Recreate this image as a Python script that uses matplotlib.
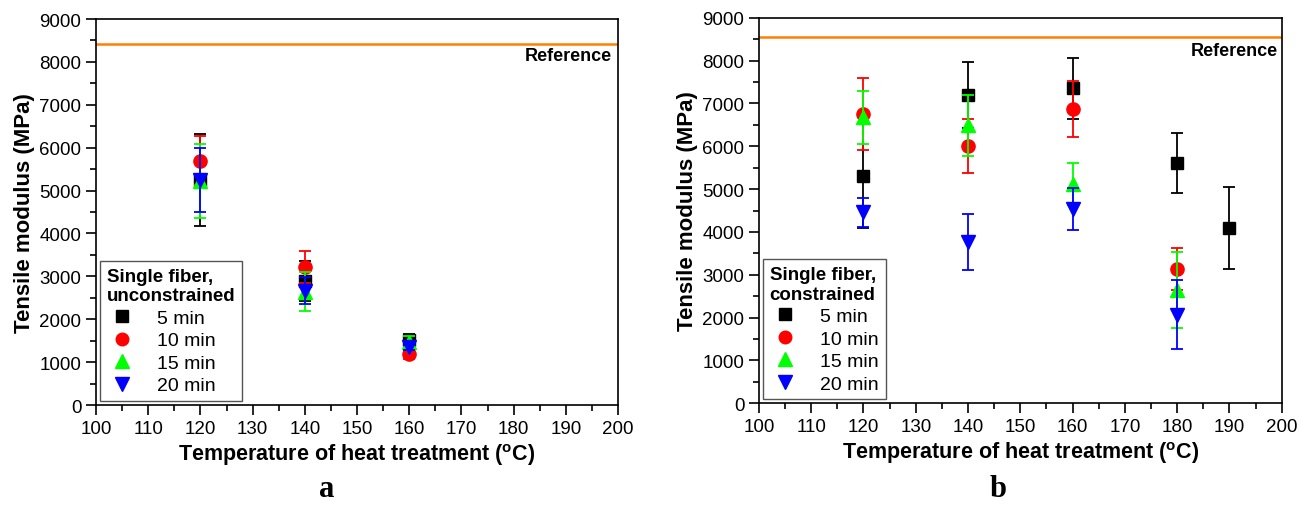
import matplotlib
matplotlib.use("Agg")
import matplotlib.pyplot as plt
from matplotlib.lines import Line2D
from matplotlib.ticker import MultipleLocator

plt.rcParams['font.family'] = ['Liberation Sans', 'DejaVu Sans']
plt.rcParams['mathtext.fontset'] = 'custom'
plt.rcParams['mathtext.rm'] = 'Liberation Sans'
plt.rcParams['mathtext.bf'] = 'Liberation Sans:bold'

# ---------------- data ----------------
series_labels = ['5 min', '10 min', '15 min', '20 min']

# Panel a: single fiber, unconstrained
temps_a = [120, 140, 160]
mod_a_5 = [5250, 2900, 1515]
err_a_5 = [1080, 465, 140]
mod_a_10 = [5700, 3210, 1180]
err_a_10 = [580, 375, 100]
mod_a_15 = [5220, 2640, 1460]
err_a_15 = [870, 450, 150]
mod_a_20 = [5250, 2665, 1345]
err_a_20 = [750, 310, 60]
ref_a = 8420

# Panel b: single fiber, constrained
temps_b_5 = [120, 140, 160, 180, 190]
mod_b_5 = [5310, 7200, 7355, 5611, 4086]
err_b_5 = [1225, 776, 710, 697, 955]
temps_b = [120, 140, 160, 180]
mod_b_10 = [6755, 6000, 6871, 3136]
err_b_10 = [845, 634, 657, 490]
mod_b_15 = [6677, 6490, 5120, 2653]
err_b_15 = [615, 710, 500, 890]
mod_b_20 = [4459, 3759, 4536, 2062]
err_b_20 = [340, 650, 484, 805]
ref_b = 8550

xticks = list(range(100, 201, 10))
yticks = list(range(0, 9001, 1000))

# ---------------- style ----------------
colors = ['#000000', '#FF0000', '#00FF00', '#0000FF']
markers = ['s', 'o', '^', 'v']
msizes = [9, 9.5, 10.5, 10.5]
ref_color = '#FF8000'

fig = plt.figure(figsize=(12.98, 5.06), dpi=100)
ax_a = fig.add_axes([0.0740, 0.1976, 0.4022, 0.7628])
ax_b = fig.add_axes([0.5847, 0.2010, 0.4027, 0.7619])


def style_axes(ax):
    ax.set_xlim(100, 200)
    ax.set_ylim(0, 9000)
    ax.set_xticks(xticks)
    ax.set_yticks(yticks)
    ax.xaxis.set_minor_locator(MultipleLocator(5))
    ax.yaxis.set_minor_locator(MultipleLocator(500))
    ax.tick_params(axis='both', which='major', direction='out', length=7,
                   width=1.2, labelsize=13.5, top=False, right=False)
    ax.tick_params(axis='both', which='minor', direction='out', length=4,
                   width=1.2, top=False, right=False)
    for sp in ax.spines.values():
        sp.set_linewidth(1.2)
    ax.set_xlabel(r'Temperature of heat treatment ($^{\mathbf{o}}$C)',
                  fontsize=15.5, fontweight='bold', labelpad=3)
    ax.set_ylabel('Tensile modulus (MPa)', fontsize=16, fontweight='bold',
                  labelpad=3)


def plot_series(ax, xs_list, ys_list, es_list):
    for i, (xs, ys, es) in enumerate(zip(xs_list, ys_list, es_list)):
        ax.errorbar(xs, ys, yerr=es, fmt=markers[i], color=colors[i],
                    ms=msizes[i], mec=colors[i], mfc=colors[i],
                    ecolor=colors[i], elinewidth=1.3, capsize=4,
                    capthick=1.3, zorder=3 + i)


def add_legend(ax, title):
    handles = [Line2D([], [], linestyle='none', marker=markers[i],
                      color=colors[i], ms=msizes[i] * 0.95)
               for i in range(4)]
    leg = ax.legend(handles, series_labels, title=title, loc='lower left',
                    bbox_to_anchor=(0.0, 0.0), borderaxespad=0.2,
                    fontsize=14, title_fontproperties={'weight': 'bold', 'size': 13.5},
                    labelspacing=0.25, handletextpad=1.0, handlelength=1.6,
                    borderpad=0.35, alignment='left', fancybox=False,
                    framealpha=1, edgecolor='#555555')
    leg.get_frame().set_linewidth(1.0)


style_axes(ax_a)
ax_a.axhline(ref_a, color=ref_color, lw=1.8, zorder=2)
ax_a.text(198.8, 8160, 'Reference', ha='right', va='center',
          fontsize=13, fontweight='bold')
plot_series(ax_a, [temps_a] * 4,
            [mod_a_5, mod_a_10, mod_a_15, mod_a_20],
            [err_a_5, err_a_10, err_a_15, err_a_20])
add_legend(ax_a, 'Single fiber,\nunconstrained')

style_axes(ax_b)
ax_b.axhline(ref_b, color=ref_color, lw=1.8, zorder=2)
ax_b.text(199.3, 8225, 'Reference', ha='right', va='center',
          fontsize=13, fontweight='bold')
plot_series(ax_b, [temps_b_5, temps_b, temps_b, temps_b],
            [mod_b_5, mod_b_10, mod_b_15, mod_b_20],
            [err_b_5, err_b_10, err_b_15, err_b_20])
add_legend(ax_b, 'Single fiber,\nconstrained')

fig.text(0.252, 0.032, 'a', ha='center', va='center', fontsize=22,
         fontweight='bold', family='Liberation Serif')
fig.text(0.769, 0.032, 'b', ha='center', va='center', fontsize=22,
         fontweight='bold', family='Liberation Serif')

fig.savefig('out.png', dpi=100)
